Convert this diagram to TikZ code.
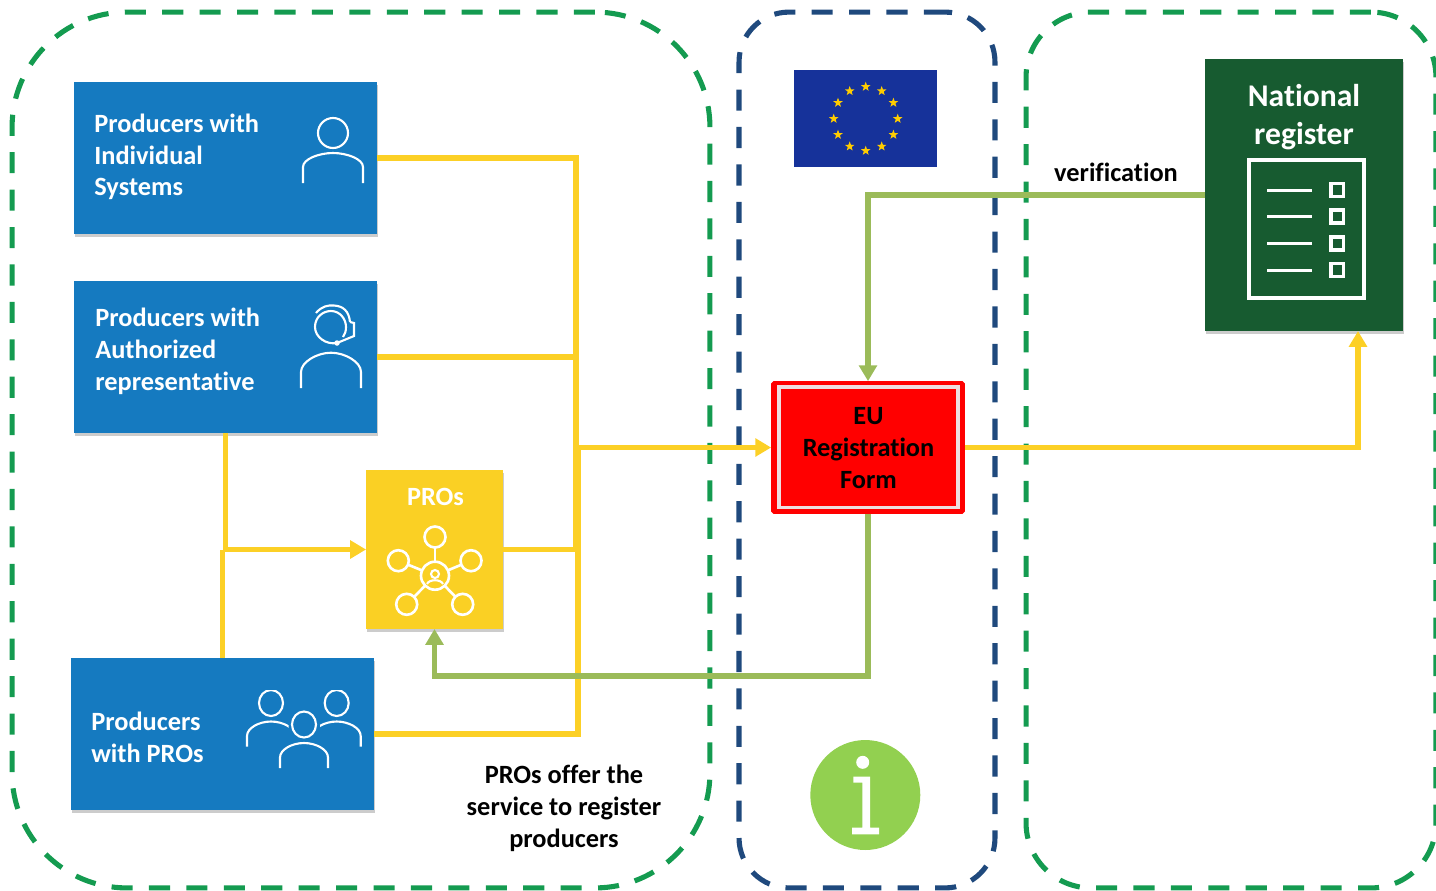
\documentclass[tikz,border=0pt]{standalone}
\usepackage{fontspec}
\setmainfont{Carlito}[Ligatures=NoCommon]
\usepackage{xcolor}
\usetikzlibrary{arrows.meta}
\usetikzlibrary{positioning}
\usetikzlibrary{shapes.geometric}
\usetikzlibrary{shadows}

\definecolor{boxblue}{RGB}{21,122,192}
\definecolor{proyellow}{RGB}{250,208,36}
\definecolor{linkyellow}{RGB}{252,208,38}
\definecolor{linkgreen}{RGB}{155,187,89}
\definecolor{zonegreen}{RGB}{20,155,80}
\definecolor{zoneblue}{RGB}{31,73,125}
\definecolor{regigreen}{RGB}{23,91,48}
\definecolor{flagblue}{RGB}{22,50,154}
\definecolor{stargold}{RGB}{255,204,0}
\definecolor{infogreen}{RGB}{146,208,80}
\definecolor{formline}{RGB}{238,222,224}

\tikzset{
    zone/.style={rectangle,line width=2.9pt,dash pattern=on 12pt off 9.3pt,inner sep=0pt,outer sep=0pt},
    box/.style={rectangle,inner sep=0pt,outer sep=0pt,drop shadow={shadow xshift=0.6pt,shadow yshift=-1.6pt,opacity=0.4}},
    boxtext/.style={font=\fontsize{15}{18.1}\selectfont\bfseries,text=white,align=left,inner sep=0pt},
    blacktext/.style={font=\fontsize{15}{18.1}\selectfont\bfseries,text=black,align=center,inner sep=0pt},
    yline/.style={draw=linkyellow,line width=2.9pt},
    gline/.style={draw=linkgreen,line width=2.9pt},
    tip/.style={-{Triangle[length=9pt,width=10pt]}},
    icon/.style={draw=white,line width=1.2pt},
    hubcircle/.style={circle,draw=white,line width=1.5pt,inner sep=0pt,outer sep=0pt,minimum size=0.42cm},
    eustar/.style={star,star points=5,star point ratio=2.4,fill=stargold,inner sep=0pt,minimum size=0.2cm},
    shoulders/.pic={
        \draw[icon] (-30,50) -- (-30,34) .. controls (-30,26) and (-14,20) .. (0,20) .. controls (14,20) and (30,26) .. (30,34) -- (30,50);
    },
    person/.pic={
        \draw[icon] (0,0) circle (15);
        \pic at (0,0) {shoulders};
    },
    smallperson/.pic={
        \draw[icon] (0,0) ellipse (12 and 13);
        \draw[icon] (-24,43.5) -- (-24,33) .. controls (-24,25) and (-12,18.5) .. (0,18.5) .. controls (12,18.5) and (24,25) .. (24,33) -- (24,43.5);
    }
}

\begin{document}
\begin{tikzpicture}[x=0.02cm,y=-0.02cm]
    \useasboundingbox (0,0) rectangle (1436,890);

    \node[zone,draw=zonegreen,minimum width=13.96cm,minimum height=17.52cm,rounded corners=2.3cm] (producerzone) at (361,450) {};
    \node[zone,draw=zoneblue,minimum width=5.12cm,minimum height=17.52cm,rounded corners=1cm] (euzone) at (867,450) {};
    \node[zone,draw=zonegreen,minimum width=8.2cm,minimum height=17.52cm,rounded corners=1.3cm] (nationalzone) at (1231,450) {};

    \node[box,fill=boxblue,minimum width=6.06cm,minimum height=3.04cm] (individual) at (225.5,158) {};
    \node[box,fill=boxblue,minimum width=6.06cm,minimum height=3.04cm] (authorized) at (225.5,357) {};
    \node[box,fill=boxblue,minimum width=6.06cm,minimum height=3.04cm] (withpros) at (222.5,734) {};
    \node[box,fill=proyellow,minimum width=2.74cm,minimum height=3.18cm] (pros) at (434.5,549.5) {};
    \node[box,fill=regigreen,minimum width=3.96cm,minimum height=5.44cm] (national) at (1304,195) {};
    \node[rectangle,fill=red,draw=red,line width=1pt,inner sep=0pt,outer sep=0.5pt,rounded corners=1pt,minimum width=3.84cm,minimum height=2.62cm] (form) at (868,447.5) {};
    \node[rectangle,draw=formline,line width=2pt,inner sep=0pt,minimum width=3.58cm,minimum height=2.41cm] (forminner) at (868.5,447.3) {};

    \node[boxtext,anchor=west] (individualtext) at (94,157) {Producers with\\Individual\\Systems};
    \node[boxtext,anchor=west] (authorizedtext) at (95,351.5) {Producers with\\Authorized\\representative};
    \node[boxtext,anchor=west] (withprostext) at (91,737) {Producers\\with PROs};
    \node[boxtext,anchor=center] (prostext) at (435.5,497) {PROs};
    \node[boxtext,anchor=center,align=center,font=\fontsize{18}{21.5}\selectfont\bfseries] (nationaltext) at (1304,117) {National\\register};
    \node[blacktext] (formtext) at (868.5,448) {EU\\Registration\\Form};
    \node[blacktext] (verificationtext) at (1116,172) {verification};
    \node[blacktext] (offertext) at (564,808.5) {PROs offer the\\service to register\\producers};

    \coordinate (busa) at (576,549.5);
    \coordinate (busb) at (578,447.5);
    \coordinate (backline) at (868,676);
    \coordinate (natin) at (1358,331);

    \draw[yline] (individual.east) -| (busa);
    \draw[yline] (authorized.east) -- (authorized.east -| busa);
    \draw[yline] (pros.east) -- (busa);
    \draw[yline] (withpros.east) -| (busb);
    \draw[yline,tip] (busb) -- (form.west);
    \draw[yline,tip] (authorized.south) |- (pros.west);
    \draw[yline] (withpros.north) -- (withpros.north |- pros.west);
    \draw[yline,tip] (form.east) -| (natin);
    \draw[gline,tip] (form.south) -- (backline) -| (pros.south);
    \draw[gline,tip] (national.west) -| (form.north);

    \pic at (333,133) {person};

    \draw[icon] (337,343) .. controls (326,345) and (315,337) .. (315,327) .. controls (315,317) and (323,311) .. (331,311) .. controls (340,311) and (346,319) .. (346,327) .. controls (346,331) and (345,334) .. (343,337);
    \draw[icon] (301,388) -- (301,372) .. controls (301,362) and (317,352.7) .. (331,352.7) .. controls (345,352.7) and (361,362) .. (361,372) -- (361,388);
    \draw[icon] (316,313) .. controls (322,306) and (328,305) .. (334,305.5) .. controls (343,306) and (349,311) .. (350,322);
    \draw[icon] (350,322) -- (354,323) -- (354,336) -- (337,343);
    \node[circle,fill=white,inner sep=0pt,minimum size=0.11cm] (micdot) at (337,343) {};

    \begin{scope}
        \clip (240,690) rectangle (288.5,750);
        \pic at (271,703) {smallperson};
    \end{scope}
    \begin{scope}
        \clip (320,690) rectangle (365,750);
        \pic at (336.7,703) {smallperson};
    \end{scope}
    \pic at (304,724.5) {smallperson};

    \node[hubcircle,minimum size=0.56cm] (hub) at (435,575.7) {};
    \node[hubcircle] (hubtop) at (435,537) {};
    \node[hubcircle] (hubleft) at (398.3,560.7) {};
    \node[hubcircle] (hubright) at (471,560.7) {};
    \node[hubcircle] (hubbl) at (406.7,604.3) {};
    \node[hubcircle] (hubbr) at (462.7,604.3) {};
    \foreach \i in {top,left,right,bl,br} {
        \draw[white,line width=1.5pt] (hub) -- (hub\i);
    }
    \node[circle,draw=white,line width=1.2pt,inner sep=0pt,minimum size=0.16cm] (hubhead) at (435,574) {};
    \draw[icon] (427,584) .. controls (429,579) and (441,579) .. (443,584);

    \node[rectangle,draw=white,line width=2pt,inner sep=0pt,minimum width=2.3cm,minimum height=2.76cm] (sheet) at (1306.5,229) {};
    \foreach \y in {190,216.7,243.3,270} {
        \draw[white,line width=1.7pt] (1267,\y) -- (1312,\y);
        \draw[white,line width=2pt] (1331,\y-6.5) rectangle (1343.5,\y+6.5);
    }

    \node[rectangle,fill=flagblue,inner sep=0pt,minimum width=2.86cm,minimum height=1.93cm] (flag) at (865.5,118.7) {};
    \foreach \a in {0,30,...,330} {
        \node[eustar] (star\a) at ({865.7+32*cos(\a)},{118.7+32*sin(\a)}) {};
    }

    \node[circle,fill=infogreen,inner sep=0pt,minimum size=2.2cm] (info) at (865.3,795) {};
    \node[circle,fill=white,inner sep=0pt,minimum size=0.26cm] (infodot) at (862.7,762.3) {};
    \fill[white] (853.3,776.7) -- (870,776.7) -- (870,827.7) -- (879,827.7) -- (879,834.3) -- (852,834.3) -- (852,827.7) -- (862.3,827.7) -- (862.3,782.7) -- (853.3,782.7) -- cycle;
\end{tikzpicture}
\end{document}
